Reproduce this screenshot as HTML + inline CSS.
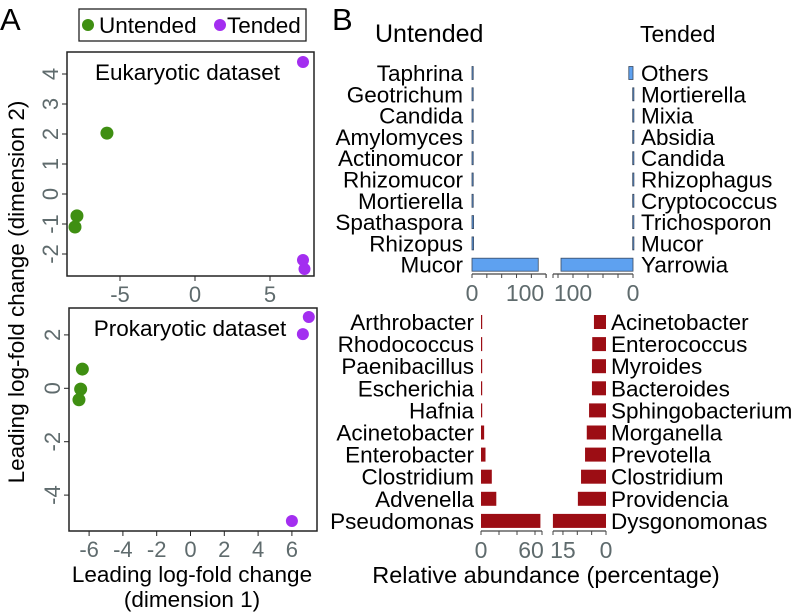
<!DOCTYPE html>
<html><head><meta charset="utf-8"><style>
html,body{margin:0;padding:0;background:#fff}
svg{display:block;font-family:"Liberation Sans",Arial,sans-serif}
</style></head><body>
<svg id="fig" width="796" height="614" viewBox="0 0 796 614"></svg>
<script>
// Panel A data
const eukUntX=[-7.87,-8.0,-5.87], eukUntY=[-0.73,-1.1,2.03];
const eukTenX=[7.2,7.2,7.3], eukTenY=[4.4,-2.2,-2.5];
const proUntX=[-6.4,-6.5,-6.6], proUntY=[0.72,-0.03,-0.43];
const proTenX=[7.0,6.65,6.0], proTenY=[2.67,2.03,-4.97];
const eukXTicks=[-5,0,5], eukYTicks=[-2,-1,0,1,2,3,4];
const proXTicks=[-6,-4,-2,0,2,4,6], proYTicks=[-4,-2,0,2];
// Panel B data
const fungUntCats=["Taphrina","Geotrichum","Candida","Amylomyces","Actinomucor","Rhizomucor","Mortierella","Spathaspora","Rhizopus","Mucor"];
const fungUntVals=[0.5,0.5,0.5,0.5,0.5,0.5,0.5,3,3,125];
const fungTenCats=["Others","Mortierella","Mixia","Absidia","Candida","Rhizophagus","Cryptococcus","Trichosporon","Mucor","Yarrowia"];
const fungTenVals=[7,0.5,0.5,0.5,0.5,0.5,0.5,0.5,0.5,120];
const bactUntCats=["Arthrobacter","Rhodococcus","Paenibacillus","Escherichia","Hafnia","Acinetobacter","Enterobacter","Clostridium","Advenella","Pseudomonas"];
const bactUntVals=[1,1,1,1,1,3.5,5,12,17,66];
const bactTenCats=["Acinetobacter","Enterococcus","Myroides","Bacteroides","Sphingobacterium","Morganella","Prevotella","Clostridium","Providencia","Dysgonomonas"];
const bactTenVals=[4.2,4.8,4.9,4.9,5.9,6.7,7.3,8.7,9.8,18.5];

const NS="http://www.w3.org/2000/svg", svg=document.getElementById('fig');
function el(tag,attrs,parent,txt){const e=document.createElementNS(NS,tag);for(const k in attrs)e.setAttribute(k,attrs[k]);if(txt!==undefined)e.textContent=txt;(parent||svg).appendChild(e);return e;}
const GRAY="#5f6b6d";

let t=el('text',{x:0,y:30,'font-size':31});t.textContent='A';


t=el('text',{x:332,y:30,'font-size':31});t.textContent='B';



const lg=el('g',{});


el('rect',{x:79,y:9,width:227,height:32,fill:'none',stroke:'#222','stroke-width':1.3},lg);
el('circle',{cx:88,cy:25,r:6,fill:'#3f8f12'},lg);
el('text',{x:99,y:33,'font-size':22.5},lg,'Untended');
el('circle',{cx:220,cy:25,r:6,fill:'#a32ef0'},lg);
el('text',{x:227,y:33,'font-size':22.5},lg,'Tended');

function scatter(name,box,xr,yr,xt,yt,ux,uy,tx,ty,title){
  const g=el('g',{});
  
  
  const sx=v=>box.x0+(v-xr[0])/(xr[1]-xr[0])*(box.x1-box.x0);
  const sy=v=>box.y1-(v-yr[0])/(yr[1]-yr[0])*(box.y1-box.y0);
  el('rect',{x:box.x0,y:box.y0,width:box.x1-box.x0,height:box.y1-box.y0,fill:'none',stroke:'#222','stroke-width':1.5},g);
  xt.forEach(v=>{const x=sx(v);el('line',{x1:x,x2:x,y1:box.y1,y2:box.y1+5,stroke:'#222'},g);
    const l=el('text',{x:x,y:box.y1+26,'font-size':22,fill:GRAY,'text-anchor':'middle'},g,String(v));
    
    });
  yt.forEach(v=>{const y=sy(v);el('line',{x1:box.x0-5,x2:box.x0,y1:y,y2:y,stroke:'#222'},g);
    const l=el('text',{x:box.x0-9,y:y,'font-size':22,fill:GRAY,'text-anchor':'middle',transform:`rotate(-90 ${box.x0-9} ${y})`},g,String(v));
    
    });
  const tt=el('text',{x:(box.x0+box.x1)/2-3,y:box.y0+28,'font-size':22.5,'text-anchor':'middle'},g,title);
  
  
  ux.forEach((v,i)=>{const c=el('circle',{cx:sx(v),cy:sy(uy[i]),r:6.5,fill:'#3f8f12'},g);
    
    });
  tx.forEach((v,i)=>{const c=el('circle',{cx:sx(v),cy:sy(ty[i]),r:6,fill:'#a32ef0'},g);
    
    });
}
scatter('eukaryotic-scatter',{x0:67,x1:314,y0:52,y1:276},[(67-195)/15,(314-195)/15],[(194-276)/30,(194-52)/30],eukXTicks,eukYTicks,eukUntX,eukUntY,eukTenX,eukTenY,'Eukaryotic dataset');
scatter('prokaryotic-scatter',{x0:69,x1:317,y0:308,y1:531},[(69-190.5)/16.9,(317-190.5)/16.9],[(388.3-531)/26.7,(388.3-308)/26.7],proXTicks,proYTicks,proUntX,proUntY,proTenX,proTenY,'Prokaryotic dataset');

let at=el('text',{x:0,y:0,'font-size':22.5,'text-anchor':'middle',transform:'translate(24 292) rotate(-90)'},svg,'Leading log-fold change (dimension 2)');


at=el('text',{x:192,y:582,'font-size':22.5,'text-anchor':'middle'},svg,'Leading log-fold change');


el('text',{x:192,y:607,'font-size':22.5,'text-anchor':'middle'},svg,'(dimension 1)');

function bars(name,cats,vals,zero,ppu,dir,rowY0,rowStep,h,color,labelX,anchor,axisY,axStart,axEnd,tickLabels,tickStep,labShift){
  const g=el('g',{});
  
  
  const sx=v=>zero+dir*v*ppu;
  cats.forEach((c,i)=>{
    const y=rowY0+i*rowStep;
    const x1=sx(vals[i]);
    const r=el('rect',{x:Math.min(zero,x1),y:y-h/2,width:Math.max(1.2,Math.abs(x1-zero)),height:h,fill:color,stroke:color==='#5ea1f0'?'#3a4a60':'none','stroke-width':0.8},g);
    
    
    const l=el('text',{x:labelX,y:y+8,'font-size':22.5,'text-anchor':anchor},g,c);
    
    
  });
  el('line',{x1:axStart,x2:axEnd,y1:axisY,y2:axisY,stroke:'#444','stroke-width':1.2},g);
  for(let v=0;;v+=tickStep){const x=sx(v);if((dir>0&&x>axEnd+0.5)||(dir<0&&x<axStart-0.5))break;
    el('line',{x1:x,x2:x,y1:axisY,y2:axisY+4,stroke:'#444'},g);}
  el('line',{x1:axStart,x2:axStart,y1:axisY,y2:axisY+4,stroke:'#444'},g);
  el('line',{x1:axEnd,x2:axEnd,y1:axisY,y2:axisY+4,stroke:'#444'},g);
  tickLabels.forEach((v,i)=>{const tl=el('text',{x:sx(v)+(labShift?labShift[i]:0),y:axisY+27,'font-size':23,fill:GRAY,'text-anchor':'middle'},g,String(v));
    
    });
}
const fTicks=[0,100], bUTicks=[0,60], bTTicks=[15,0];
bars('fungi-untended',fungUntCats,fungUntVals,472,0.53,1,73,21.3,13,'#5ea1f0',463,'end',274,472,546,fTicks,28);
bars('fungi-tended',fungTenCats,fungTenVals,633,0.6,-1,73,21.3,13,'#5ea1f0',641,'start',274,553,633,fTicks,25);
bars('bacteria-untended',bactUntCats,bactUntVals,481,0.9,1,322,22.1,14,'#9c0d14',474,'end',531,481,542,bUTicks,20,[0,-4]);
bars('bacteria-tended',bactTenCats,bactTenVals,606,2.87,-1,322,22.1,14,'#9c0d14',611,'start',531,553,606,bTTicks,5);

let h=el('text',{x:375,y:42,'font-size':25},svg,'Untended');


h=el('text',{x:640,y:42,'font-size':23},svg,'Tended');


h=el('text',{x:546,y:583,'font-size':23.5,'text-anchor':'middle'},svg,'Relative abundance (percentage)');


</script>
</body></html>
